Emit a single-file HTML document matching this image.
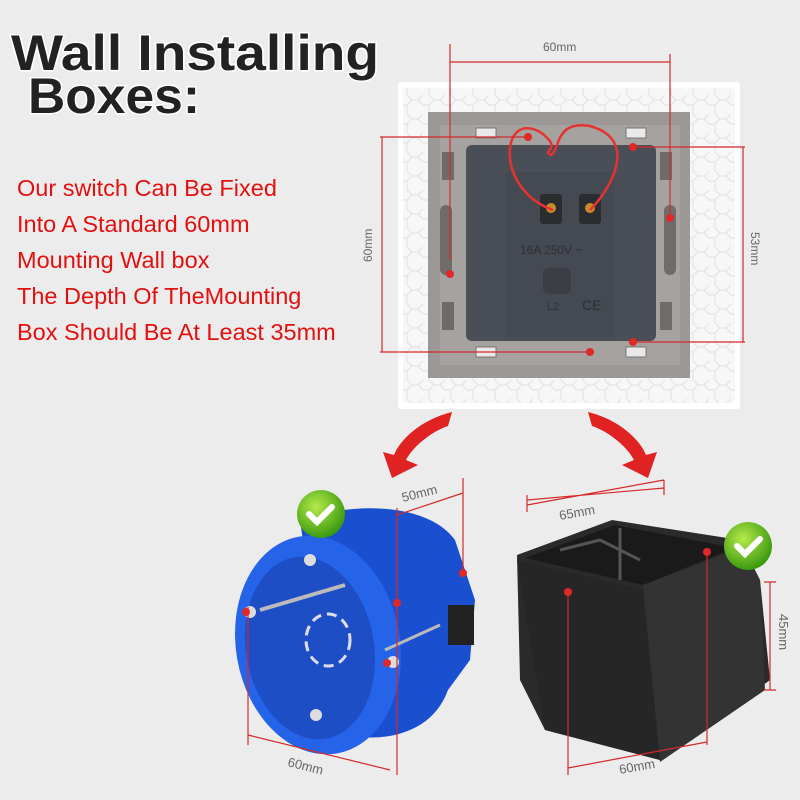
<!DOCTYPE html>
<html><head><meta charset="utf-8"><style>
body{margin:0;background:#ececec;}
svg{display:block}
</style></head><body>
<svg width="800" height="800" viewBox="0 0 800 800" xmlns="http://www.w3.org/2000/svg" font-family="Liberation Sans, sans-serif">
<defs>
<pattern id="hex" width="22" height="19" patternUnits="userSpaceOnUse">
<rect width="22" height="19" fill="#f7f7f7"/>
<path d="M0 5 L5 0 M11 0 L16 5 L11 10 L5 10 L0 5 M16 5 L22 5 M11 10 L11 19" stroke="#e4e4e4" stroke-width="1.2" fill="none"/>
</pattern>
<radialGradient id="gck" cx="40%" cy="35%" r="65%"><stop offset="0" stop-color="#b5ea4a"/><stop offset="1" stop-color="#3c9a10"/></radialGradient>
</defs>
<rect width="800" height="800" fill="#ececec"/>
<!-- title -->
<g font-weight="bold" font-size="50" fill="#222" stroke="#fff" stroke-width="3" paint-order="stroke">
<text x="11" y="70" textLength="368" lengthAdjust="spacingAndGlyphs">Wall Installing</text>
<text x="28" y="113" textLength="172" lengthAdjust="spacingAndGlyphs">Boxes:</text>
</g>
<g font-size="23.5" fill="#e31010">
<text x="17" y="196">Our switch Can Be Fixed</text>
<text x="17" y="232">Into A Standard 60mm</text>
<text x="17" y="268">Mounting Wall box</text>
<text x="17" y="304">The Depth Of TheMounting</text>
<text x="17" y="340">Box Should Be At Least 35mm</text>
</g>
<!-- plate -->
<rect x="398" y="82" width="342" height="327" fill="#ffffff" rx="3"/>
<rect x="403" y="88" width="332" height="315" fill="url(#hex)"/>
<path d="M428 112 H690 V378 H428 Z" fill="#9b9895"/>
<rect x="440" y="125" width="240" height="240" fill="#a5a29f"/>
<g fill="#e9e9e9" stroke="#777" stroke-width="1">
<rect x="476" y="128" width="20" height="10"/><rect x="626" y="128" width="20" height="10"/>
<rect x="476" y="347" width="20" height="10"/><rect x="626" y="347" width="20" height="10"/>
</g>
<g fill="#6e6b68">
<rect x="442" y="152" width="12" height="28"/><rect x="660" y="152" width="12" height="28"/>
<rect x="442" y="302" width="12" height="28"/><rect x="660" y="302" width="12" height="28"/>
<rect x="440" y="205" width="12" height="70" rx="6"/><rect x="664" y="205" width="12" height="70" rx="6"/>
</g>
<rect x="466" y="145" width="190" height="196" rx="6" fill="#4a4e56"/>
<rect x="505" y="172" width="110" height="165" fill="#454951"/>
<rect x="540" y="194" width="22" height="30" rx="3" fill="#2a2c30"/><rect x="579" y="194" width="22" height="30" rx="3" fill="#2a2c30"/>
<circle cx="551" cy="208" r="5" fill="#c98a2a"/><circle cx="590" cy="208" r="5" fill="#c98a2a"/>
<text x="520" y="254" font-size="12" fill="#2e3136">16A 250V ~</text>
<rect x="543" y="268" width="28" height="26" rx="6" fill="#3b3e45"/>
<text x="547" y="310" font-size="11" fill="#2e3136">L2</text><text x="582" y="310" font-size="14" fill="#2e3136">CE</text>
<path d="M553 210 C495 190 500 110 540 132 C565 150 540 150 551 155 C560 150 555 120 590 126 C640 140 610 190 590 210" fill="none" stroke="#e63232" stroke-width="2.5"/>
<!-- dims on plate -->
<g stroke="#d42a2a" stroke-width="1.2" fill="none">
<path d="M450 44 V260 M670 54 V218 M450 62 H670"/>
<path d="M380 137 H528 M380 352 H590 M382 137 V352"/>
<path d="M633 147 H745 M633 342 H745 M743 147 V342"/>
</g>
<g fill="#e02828"><circle cx="528" cy="137" r="4"/><circle cx="633" cy="147" r="4"/><circle cx="450" cy="274" r="4"/><circle cx="670" cy="218" r="4"/><circle cx="590" cy="352" r="4"/><circle cx="633" cy="342" r="4"/></g>
<g font-size="12" fill="#666"><text x="543" y="51">60mm</text>
<text transform="translate(372,262) rotate(-90)">60mm</text>
<text transform="translate(751,232) rotate(90)">53mm</text></g>
<!-- arrows -->
<path d="M452 412 C420 420 400 440 394 455 L383 452 L392 478 L418 465 L406 460 C412 448 430 432 448 426 Z" fill="#e02222"/>
<path d="M588 412 C620 420 640 440 646 455 L657 452 L648 478 L622 465 L634 460 C628 448 610 432 592 426 Z" fill="#e02222"/>
<!-- blue box -->
<path d="M300 520 C360 500 430 505 455 540 L475 600 L470 660 L448 690 C430 740 370 745 330 730 Z" fill="#1a4fd0"/>
<ellipse cx="318" cy="645" rx="82" ry="110" fill="#2563e8" transform="rotate(-10 318 645)"/>
<ellipse cx="310" cy="648" rx="64" ry="92" fill="#1d4ec6" transform="rotate(-10 310 648)"/>
<ellipse cx="328" cy="640" rx="22" ry="26" fill="none" stroke="#dde" stroke-width="3" stroke-dasharray="10 6"/>
<path d="M260 610 L345 585" stroke="#bbb" stroke-width="4"/>
<path d="M385 650 L440 625" stroke="#bbb" stroke-width="3"/>
<rect x="448" y="605" width="26" height="40" fill="#222"/>
<g fill="#ddd"><circle cx="310" cy="560" r="6"/><circle cx="250" cy="612" r="6"/><circle cx="393" cy="662" r="6"/><circle cx="316" cy="715" r="6"/></g>
<circle cx="321" cy="514" r="24" fill="url(#gck)"/>
<path d="M309 514 l8 8 l15 -15" stroke="#fff" stroke-width="6" fill="none" stroke-linecap="round"/>
<g stroke="#d42a2a" stroke-width="1.2" fill="none">
<path d="M397 508 V775 M463 478 V575 M397 515 L463 493 M248 607 V745 M248 735 L390 770"/>
</g>
<g fill="#e02828"><circle cx="463" cy="573" r="4"/><circle cx="397" cy="603" r="4"/><circle cx="246" cy="612" r="4"/><circle cx="387" cy="663" r="4"/></g>
<text x="403" y="502" font-size="13" fill="#666" transform="rotate(-14 403 502)">50mm</text>
<text x="287" y="766" font-size="13" fill="#666" transform="rotate(14 287 766)">60mm</text>
<!-- black box -->
<path d="M517 555 L612 520 L740 540 L760 580 L770 680 L660 760 L545 730 L520 680 Z" fill="#2a2a2a"/>
<path d="M525 558 L615 525 L735 548 L643 585 Z" fill="#1a1a1a"/>
<path d="M643 585 L740 548 L760 580 L765 690 L660 762 Z" fill="#333"/>
<path d="M517 560 L643 590 L660 760 L545 730 Z" fill="#262626"/>
<path d="M560 550 L600 540 L640 560 M620 528 V580" stroke="#555" stroke-width="3" fill="none"/>
<circle cx="748" cy="546" r="24" fill="url(#gck)"/>
<path d="M737 546 l8 8 l15 -15" stroke="#fff" stroke-width="6" fill="none" stroke-linecap="round"/>
<g stroke="#d42a2a" stroke-width="1.2" fill="none">
<path d="M527 500 L664 488 M527 505 L664 480 M664 480 V495 M527 495 V512"/>
<path d="M568 592 V775 M707 552 V745 M568 768 L707 742"/>
<path d="M770 582 V690 M764 582 H776 M764 690 H776"/>
</g>
<g fill="#e02828"><circle cx="568" cy="592" r="4"/><circle cx="707" cy="552" r="4"/></g>
<text x="560" y="520" font-size="13" fill="#666" transform="rotate(-10 560 520)">65mm</text>
<text x="620" y="774" font-size="13" fill="#666" transform="rotate(-10 620 774)">60mm</text>
<text transform="translate(779,614) rotate(90)" font-size="13" fill="#666">45mm</text>
</svg>
</body></html>
